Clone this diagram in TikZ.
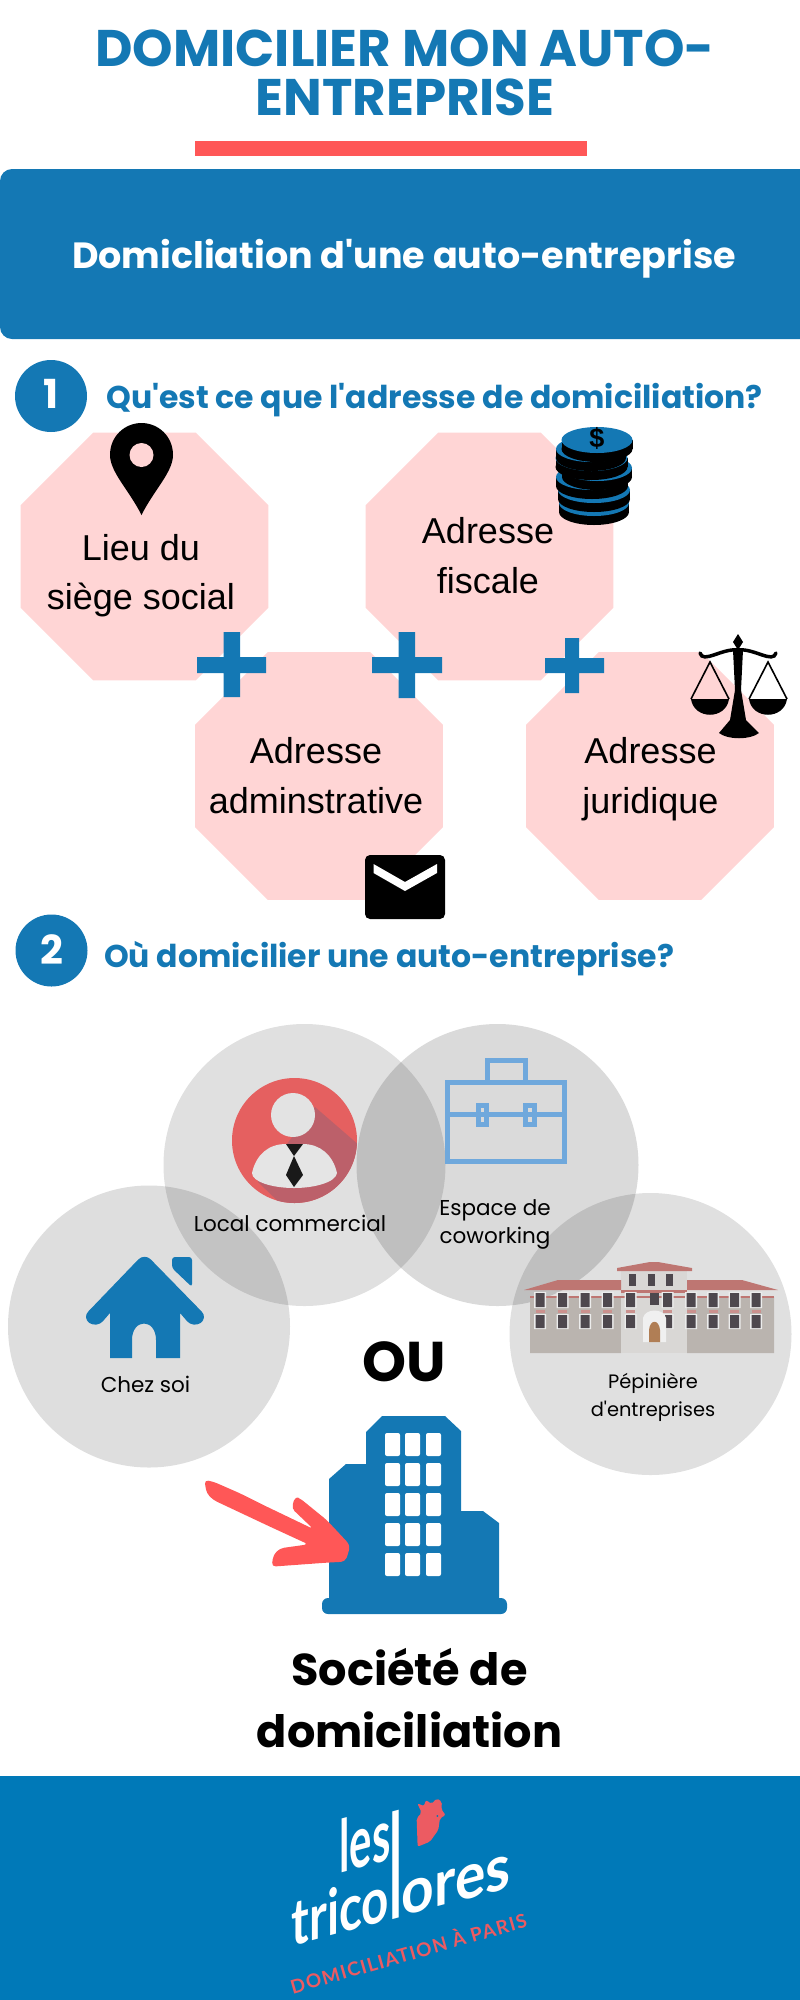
\documentclass[tikz,border=0pt]{standalone}
\usepackage{fontspec}
\usepackage{graphicx}
\usepackage{tikz}
\usetikzlibrary{shapes.geometric,positioning}
\setmainfont[Ligatures=TeXOff]{Poppins}
\newfontfamily\armfont{Liberation Sans}
\newfontfamily\logofont{Lato}
\definecolor{tcblue}{RGB}{20,120,180}
\definecolor{tcfoot}{RGB}{0,121,184}
\definecolor{tcred}{RGB}{255,87,87}
\definecolor{tcpink}{RGB}{255,213,213}
\definecolor{tcavatar}{RGB}{229,96,96}
\definecolor{tcshadow}{RGB}{188,96,106}
\definecolor{tccase}{RGB}{111,168,220}
\definecolor{tcroof}{RGB}{190,118,114}
\definecolor{tcwing}{RGB}{186,180,175}
\definecolor{tccentre}{RGB}{217,215,213}
\definecolor{tcwindow}{RGB}{78,72,78}
\definecolor{tcdoor}{RGB}{176,126,85}
\definecolor{tccock}{RGB}{236,91,98}
\tikzstyle{octa} = [regular polygon, regular polygon sides=8, minimum size=268pt, inner sep=0pt, outer sep=0pt, fill=tcpink]
\tikzstyle{octatext} = [align=center, anchor=base, inner sep=0pt, font=\armfont\fontsize{36}{49.5}\selectfont]
\tikzstyle{halo} = [circle, minimum size=282pt, inner sep=0pt, fill=black, fill opacity=0.13]
\tikzstyle{numdisc} = [circle, minimum size=72pt, inner sep=0pt, fill=tcblue]
\tikzstyle{numtext} = [anchor=base, inner sep=0pt, text=white, font=\fontsize{40}{40}\selectfont\bfseries]
\tikzstyle{heading} = [anchor=base west, inner sep=0pt, text=tcblue, font=\fontsize{31.5}{33}\selectfont\bfseries]
\tikzstyle{halotext} = [align=center, anchor=base, inner sep=0pt, font=\fontsize{21.5}{28}\selectfont]
\tikzstyle{blueshape} = [fill=tcblue]
\begin{document}
\begin{tikzpicture}[x=1pt, y=-1pt]
\useasboundingbox (0,0) rectangle (800,2000);
\node (title) [align=center, anchor=base, inner sep=0pt, text=tcblue, font=\fontsize{51.5}{49}\selectfont\bfseries] at (405,115) {DOMICILIER MON AUTO-\\ENTREPRISE};
\fill [tcred] (195,141) rectangle (587,156);
\fill [blueshape] (800,169) [rounded corners=12pt] -- (0,169) -- (0,339) [sharp corners] -- (800,339) -- cycle;
\node (band) [anchor=base, inner sep=0pt, text=white, font=\fontsize{36.5}{38}\selectfont\bfseries] at (404,268) {Domicliation d'une auto-entreprise};
\node (one) [numdisc] at (51,396) {};
\node (onetext) [numtext] at (51,408) {1};
\node (askone) [heading] at (106,408) {Qu'est ce que l'adresse de domiciliation?};

\node (lieu) [octa] at (144.5,556.5) {};
\node (fiscale) [octa] at (489.5,556.5) {};
\node (admin) [octa] at (319,776) {};
\node (juridique) [octa] at (650,776) {};
\node (lieutext) [octatext] at (141,609.5) {Lieu du\\siège social};
\node (fiscaletext) [octatext] at (488,593) {Adresse\\fiscale};
\node (admintext) [octatext] at (316,813) {Adresse\\adminstrative};
\node (juridiquetext) [octatext] at (650.5,813) {Adresse\\juridique};

\fill [blueshape] (197,657) rectangle (266,673) (223.5,632) rectangle (240,697);
\fill [blueshape] (372,657) rectangle (442,673) (398.5,632) rectangle (415,698);
\fill [blueshape] (545,658) rectangle (604,673) (565,638) rectangle (579,693);

\fill [black] (141.5,515) .. controls (129,490) and (110,472) .. (110,455) .. controls (110,436) and (125,423) .. (141.5,423) .. controls (158,423) and (173,436) .. (173,455) .. controls (173,472) and (154,490) .. (141.5,515) -- cycle;
\fill [tcpink] (141.5,455) circle [radius=12];

\foreach \cx/\cy/\crx in {594/503/35,594/490/36,592/477/36,597/468/35,591.5/458/36,591/449/35,597/440/35.5} {
  \fill [black] (\cx,\cy+9) ellipse [x radius=\crx, y radius=13];
  \fill [black] (\cx-\crx,\cy) rectangle (\cx+\crx,\cy+9);
  \fill [tcblue] (\cx,\cy) ellipse [x radius=\crx, y radius=13];
}
\node (dollar) [inner sep=0pt, font=\armfont\fontsize{27}{27}\selectfont\bfseries] at (597,438) {\$};

\fill [black] (738,634) -- (733,642) -- (738,650) -- (743,642) -- cycle;
\draw [black, line width=3.5pt, line cap=round] (700,653) .. controls (703,664) and (722,648) .. (738,650) .. controls (754,648) and (773,664) .. (776,653);
\fill [black] (733,650) -- (743,650) -- (741,690) -- (746,720) -- (759,733) .. controls (750,740) and (728,740) .. (719,733) -- (730,720) -- (735,690) -- cycle;
\foreach \panx in {710,768} {
  \draw [black, line width=1.6pt] (\panx-19,699) -- (\panx,662) -- (\panx+19,699);
  \fill [black] (\panx-19,699) -- (\panx+19,699) .. controls (\panx+16,720) and (\panx-16,720) .. (\panx-19,699) -- cycle;
}

\fill [black, rounded corners=5pt] (365,855) rectangle (445,919);
\fill [white] (373.5,864) -- (405,882) -- (437,864) -- (437,873) -- (405,891) -- (373.5,873) -- cycle;

\node (two) [numdisc] at (51.5,950.5) {};
\node (twotext) [numtext] at (51.5,964) {2};
\node (asktwo) [heading] at (104,967) {Où domicilier une auto-entreprise?};

\node (local) [halo, fill opacity=0.12] at (304.5,1165) {};
\node (coworking) [halo, fill opacity=0.145] at (497.5,1165) {};
\node (home) [halo] at (149,1326.5) {};
\node (nursery) [halo, fill opacity=0.12] at (650.5,1334) {};

\fill [tcavatar] (294.5,1140.5) circle [radius=62.5];
\begin{scope}
\clip (294.5,1140.5) circle [radius=62.5];
\fill [tcshadow] (315,1107) -- (360,1146) -- (360,1210) -- (287,1210) -- (258,1182) -- cycle;
\end{scope}
\fill [gray!22] (293,1115) circle [radius=22];
\fill [gray!20] (252,1173) .. controls (256,1155) and (268,1144) .. (286,1144) -- (303,1144) .. controls (320,1144) and (333,1155) .. (337,1173) .. controls (336,1182) and (315,1188) .. (294,1188) .. controls (273,1188) and (252,1182) .. (252,1173) -- cycle;
\fill [black!90] (286,1144) -- (303,1144) -- (294,1156) -- (303,1175) -- (294,1187) -- (286,1175) -- (294,1156) -- cycle;

\draw [tccase, line width=5pt] (447.5,1082.5) rectangle (564,1161.5) (487.5,1082.5) -- (487.5,1060.5) -- (525.5,1060.5) -- (525.5,1082.5) (447.5,1114) -- (564,1114);
\draw [tccase, line width=5pt] (478.5,1105.5) rectangle (486.5,1124.5) (525.5,1105.5) rectangle (534.5,1124.5);

\fill [blueshape] (172,1257) [rounded corners=3pt] -- (192,1257) -- (192,1287) -- (172,1268) -- cycle;
\fill [blueshape] (144.5,1253) [rounded corners=9pt] -- (82,1318) -- (97,1328) [sharp corners] -- (110,1313) -- (110,1358) -- (132,1358) -- (132,1340) .. controls (132,1318) and (156,1318) .. (156,1340) -- (156,1358) -- (180,1358) -- (180,1313) [rounded corners=9pt] -- (193,1328) -- (208,1318) -- cycle;

\node (localtext) [halotext] at (290,1231) {Local commercial};
\node (cotext) [halotext] at (495,1243) {Espace de\\coworking};
\node (hometext) [halotext] at (145.5,1392) {Chez soi};
\node (nurserytext) [halotext, font=\fontsize{19.4}{28}\selectfont] at (653,1416) {Pépinière\\d'entreprises};

\fill [tcwing] (530,1297) rectangle (621,1353) (687,1297) rectangle (774,1353);
\fill [tccentre] (621,1268) rectangle (687,1353);
\fill [tcroof] (524,1290) -- (558,1280) -- (621,1280) -- (621,1290) -- cycle;
\fill [tcroof] (687,1280) -- (742,1280) -- (778,1290) -- (687,1290) -- cycle;
\fill [tcroof] (617,1268) -- (650,1262) -- (658,1262) -- (692,1268) -- (692,1271) -- (617,1271) -- cycle;
\fill [tcroof] (621,1290) rectangle (687,1293);
\draw [tcroof, line width=2pt] (530,1297) -- (774,1297);
\foreach \winx in {540,562.5,585,607.5,691,713,734.5,756,630.5,667.5} {
  \fill [gray!15] (\winx-6,1292) rectangle (\winx+6,1308) (\winx-6,1314) rectangle (\winx+6,1329);
  \fill [tcwindow] (\winx-4.5,1293) rectangle (\winx+4.5,1307) (\winx-4.5,1315) rectangle (\winx+4.5,1328);
  \fill [tcroof!80] (\winx-4.5,1309.5) rectangle (\winx+4.5,1312.5);
}
\foreach \winx in {632,651,669} {
  \fill [tcwindow] (\winx-3.5,1274) rectangle (\winx+3.5,1286);
}
\fill [tcwindow] (650,1293) rectangle (659,1305);
\fill [gray!12] (643,1342) -- (643,1318) .. controls (645,1308) and (664,1308) .. (666,1318) -- (666,1342) -- cycle;
\fill [tcdoor] (649,1342) -- (649,1330) .. controls (650,1319) and (659,1319) .. (660,1330) -- (660,1342) -- cycle;

\node (ou) [anchor=base, inner sep=0pt, font=\fontsize{56}{56}\selectfont\bfseries] at (404.5,1381) {OU};

\fill [blueshape] (329,1600) -- (329,1479) -- (346,1464) -- (366,1464) -- (366,1432) -- (382,1416) -- (445,1416) -- (461,1431) -- (461,1511) -- (483,1511) -- (499,1523) -- (499,1600) -- cycle;
\fill [blueshape, rounded corners=6pt] (322,1598) rectangle (507,1614);
\foreach \winy in {1433,1463,1493,1523,1553} {
  \foreach \winx in {385,405,426} {
    \fill [white, rounded corners=2pt] (\winx,\winy) rectangle (\winx+15,\winy+23);
  }
}
\begin{scope}[shift={(180,1380)}, x=0.3333pt, y=-0.3333pt]
\fill [tcred, rounded corners=4pt] (73,300) -- (100,305) -- (180,340) -- (250,375) -- (400,447) -- (335,385) -- (345,350) -- (360,355) -- (440,420) -- (510,495) -- (505,520) -- (495,545) -- (440,548) -- (275,560) -- (280,525) -- (300,505) -- (385,493) -- (270,440) -- (100,360) -- (80,340) -- cycle;
\end{scope}

\node (societe) [align=center, anchor=base, inner sep=0pt, font=\fontsize{44.6}{62}\selectfont\bfseries] at (409.5,1747) {Société de\\domiciliation};

\fill [tcfoot] (0,1776) rectangle (800,2000);
\begin{scope}[shift={(150,1740)}, x=0.3333pt, y=-0.3333pt]
\fill [tccock, rounded corners=2pt] (803,320) -- (800,235) -- (815,218) -- (802,190) -- (822,198) -- (828,180) -- (845,192) -- (860,175) -- (876,185) -- (874,208) -- (887,225) -- (870,235) -- (865,270) -- (840,305) -- cycle;
\fill [tcfoot] (862,228) circle [radius=3];
\end{scope}
\node (les) [inner sep=0pt, yslant=0.27, text=white, font=\logofont\fontsize{58}{58}\selectfont\bfseries] at (365,1840) {\scalebox{0.72}[1.25]{les}};
\node (tricolores) [inner sep=0pt, yslant=0.27, anchor=base, text=white, font=\logofont\fontsize{58}{58}\selectfont\bfseries] at (401,1917) {\scalebox{0.82}[1.1]{trico}\scalebox{0.9}[2.5]{l}\scalebox{0.98}[1.1]{ores}};
\node (slogan) [inner sep=0pt, rotate=16, text=tccock, font=\logofont\fontsize{19}{19}\selectfont\bfseries\addfontfeature{LetterSpace=7}] at (408,1952) {DOMICILIATION À PARIS};
\end{tikzpicture}
\end{document}
